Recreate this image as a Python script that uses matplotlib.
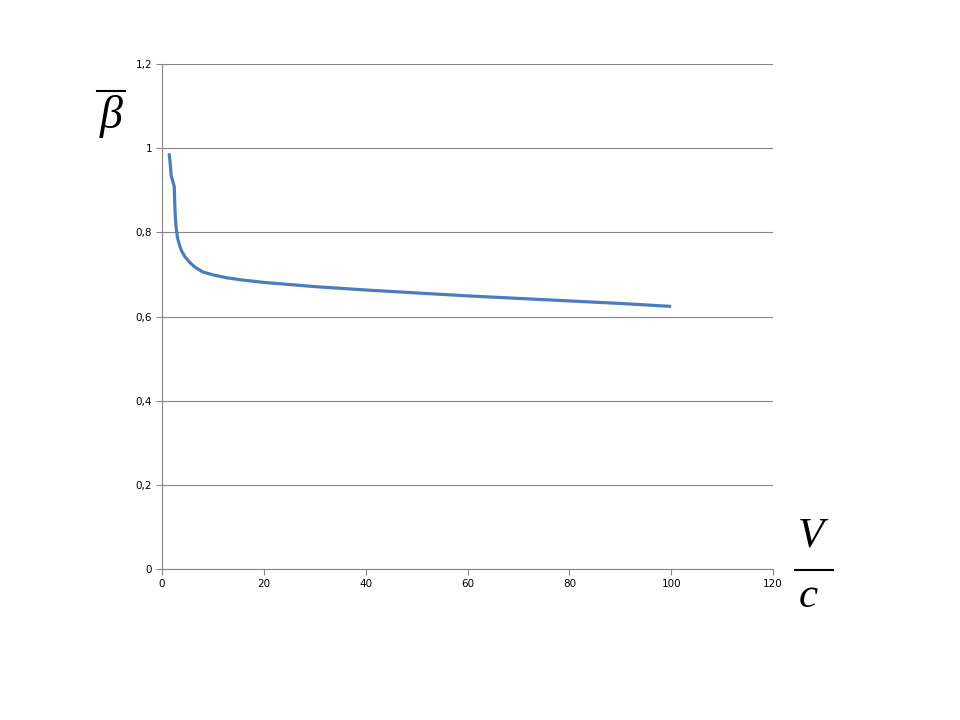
import matplotlib
matplotlib.use("Agg")
import matplotlib.pyplot as plt
from matplotlib.lines import Line2D

# data
v_over_c = [1.4, 1.6, 1.8, 2.1, 2.4, 2.5, 2.6, 2.75, 3.0, 3.3, 3.8, 4.5,
            5.5, 6.5, 8.0, 10.0, 12.7, 15.6, 20, 30, 40, 50, 60, 70, 80,
            90, 100]
beta_mean = [0.988, 0.965, 0.935, 0.922, 0.909, 0.87, 0.84, 0.815, 0.79,
             0.775, 0.757, 0.742, 0.728, 0.717, 0.706, 0.699, 0.692, 0.687,
             0.681, 0.671, 0.663, 0.656, 0.649, 0.643, 0.637, 0.631, 0.624]
x_ticks = [0, 20, 40, 60, 80, 100, 120]
y_ticks = [0, 0.2, 0.4, 0.6, 0.8, 1.0, 1.2]
y_tick_labels = ["0", "0,2", "0,4", "0,6", "0,8", "1", "1,2"]

fig = plt.figure(figsize=(9.6, 7.2), dpi=100)
ax = fig.add_axes([162 / 960, 1 - 569 / 720, (773 - 162) / 960, (569 - 64) / 720])

ax.plot(v_over_c, beta_mean, color="#4a7ebb", lw=2.3, solid_capstyle="butt",
        solid_joinstyle="round")

ax.set_xlim(0, 120)
ax.set_ylim(0, 1.2)
ax.set_xticks(x_ticks)
ax.set_yticks(y_ticks)
ax.set_yticklabels(y_tick_labels)
ax.tick_params(axis="both", labelsize=7.5, length=4, width=0.8, color="#868686",
               direction="out", pad=3)

ax.grid(axis="y", color="#868686", lw=0.8)
ax.set_axisbelow(True)
for side in ["top", "right"]:
    ax.spines[side].set_visible(False)
for side in ["left", "bottom"]:
    ax.spines[side].set_color("#868686")
    ax.spines[side].set_linewidth(0.8)

# axis labels: beta with overline, and V over c
fig.text(111 / 960, 1 - 116 / 720, "β", family="Liberation Serif", style="italic",
         fontsize=33, ha="center", va="center")
fig.add_artist(Line2D([97 / 960, 125 / 960], [1 - 91 / 720, 1 - 91 / 720],
                      color="black", lw=1.5, transform=fig.transFigure))

fig.text(811 / 960, 1 - 536 / 720, "V", family="Liberation Serif", style="italic",
         fontsize=31, ha="center", va="center")
fig.add_artist(Line2D([795 / 960, 833 / 960], [1 - 570 / 720, 1 - 570 / 720],
                      color="black", lw=1.5, transform=fig.transFigure))
fig.text(808 / 960, 1 - 597 / 720, "c", family="Liberation Serif", style="italic",
         fontsize=31, ha="center", va="center")

fig.savefig("out.png", dpi=100)
